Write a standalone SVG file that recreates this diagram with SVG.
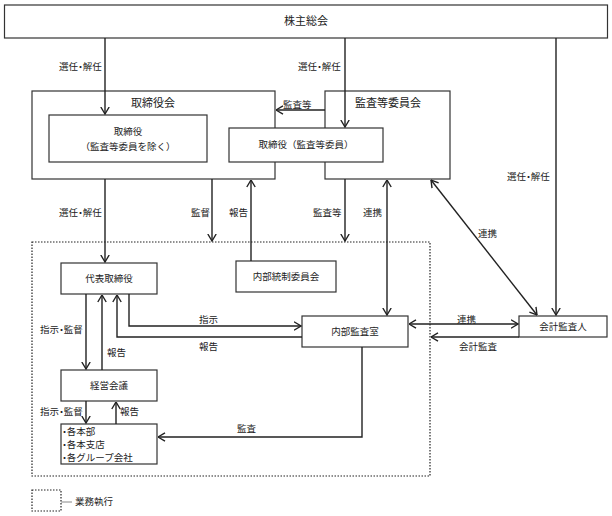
<svg xmlns="http://www.w3.org/2000/svg" width="612" height="516" viewBox="0 0 612 516">
<style>
text{font-family:"Noto Sans CJK JP","Noto Sans CJK SC",sans-serif;fill:#222;}
.n{font-size:9.5px;text-anchor:middle;}
.s{font-size:9.5px;text-anchor:start;font-feature-settings:"halt";}
.t{font-size:11px;text-anchor:middle;}
.l{font-size:9.5px;font-feature-settings:"halt";}
.box{fill:#fff;stroke:#333;stroke-width:1.2;}
.c{fill:none;stroke:#222;stroke-width:1.4;}
</style>
<defs>
<marker id="a" viewBox="0 0 8 10" refX="7.5" refY="5" markerWidth="8" markerHeight="10" markerUnits="userSpaceOnUse" orient="auto-start-reverse">
<path d="M0.5,0.8 L7.5,5 L0.5,9.2" fill="none" stroke="#222" stroke-width="1.4"/>
</marker>
</defs>
<rect width="612" height="516" fill="#fff"/>
<g id="exec-area"><rect x="32" y="242" width="398" height="234" fill="none" stroke="#222" stroke-width="1.2" stroke-dasharray="1.5,1.5"/></g>
<g id="shareholders"><rect class="box" x="4.5" y="5" width="603" height="33"/><text class="t" x="306" y="25">株主総会</text></g>
<g id="board"><rect class="box" x="32" y="91" width="243" height="88"/><text class="t" x="153" y="107">取締役会</text></g>
<g id="directors"><rect class="box" x="49" y="115" width="158" height="47"/><text class="n" x="128" y="135">取締役</text><text class="n" x="128" y="150">（監査等委員を除く）</text></g>
<g id="audit-committee"><rect class="box" x="325" y="91" width="125" height="88"/><text class="t" x="388" y="107">監査等委員会</text></g>
<g id="audit-directors"><rect class="box" x="229" y="128" width="154" height="34"/><text class="n" x="306" y="148">取締役（監査等委員）</text></g>
<g id="ceo"><rect class="box" x="61" y="263" width="96" height="31"/><text class="n" x="109" y="282">代表取締役</text></g>
<g id="internal-control"><rect class="box" x="236" y="261" width="100" height="31"/><text class="n" x="286" y="280">内部統制委員会</text></g>
<g id="internal-audit"><rect class="box" x="302" y="316" width="106" height="31"/><text class="n" x="355" y="335">内部監査室</text></g>
<g id="accounting-auditor"><rect class="box" x="519" y="316" width="88" height="21"/><text class="n" x="563" y="330">会計監査人</text></g>
<g id="management"><rect class="box" x="61" y="370" width="96" height="31"/><text class="n" x="109" y="389">経営会議</text></g>
<g id="divisions"><rect class="box" x="61" y="424" width="96" height="40"/><text class="s" x="62" y="435">・各本部</text><text class="s" x="62" y="448">・各本支店</text><text class="s" x="62" y="461">・各グループ会社</text></g>
<g id="connectors">
<path class="c" d="M105,38 V114" marker-end="url(#a)"/>
<path class="c" d="M345,38 V127" marker-end="url(#a)"/>
<path class="c" d="M556,38 V315" marker-end="url(#a)"/>
<path class="c" d="M325,110 H276" marker-end="url(#a)"/>
<path class="c" d="M105,179 V262" marker-end="url(#a)"/>
<path class="c" d="M212,179 V241" marker-end="url(#a)"/>
<path class="c" d="M251,261 V180" marker-end="url(#a)"/>
<path class="c" d="M345,179 V241" marker-end="url(#a)"/>
<path class="c" d="M387,180 V315" marker-start="url(#a)" marker-end="url(#a)"/>
<path class="c" d="M431,180 L537,315" marker-start="url(#a)" marker-end="url(#a)"/>
<path class="c" d="M409,324 H518" marker-start="url(#a)" marker-end="url(#a)"/>
<path class="c" d="M519,337 H431" marker-end="url(#a)"/>
<path class="c" d="M129,294 V326 H301" marker-end="url(#a)"/>
<path class="c" d="M302,337 H117 V295" marker-end="url(#a)"/>
<path class="c" d="M86,294 V369" marker-end="url(#a)"/>
<path class="c" d="M102,370 V295" marker-end="url(#a)"/>
<path class="c" d="M86,401 V423" marker-end="url(#a)"/>
<path class="c" d="M116,424 V402" marker-end="url(#a)"/>
<path class="c" d="M362,347 V437 H158" marker-end="url(#a)"/>
</g>
<g id="labels">
<text class="l" x="59" y="70">選任・解任</text>
<text class="l" x="298" y="70">選任・解任</text>
<text class="l" x="507" y="180">選任・解任</text>
<text class="l" x="283" y="108">監査等</text>
<text class="l" x="59" y="216">選任・解任</text>
<text class="l" x="191" y="216">監督</text>
<text class="l" x="229" y="216">報告</text>
<text class="l" x="313" y="216">監査等</text>
<text class="l" x="363" y="216">連携</text>
<text class="l" x="478" y="237">連携</text>
<text class="l" x="457" y="323">連携</text>
<text class="l" x="459" y="350">会計監査</text>
<text class="l" x="199" y="323">指示</text>
<text class="l" x="199" y="350">報告</text>
<text class="l" x="40" y="333">指示・監督</text>
<text class="l" x="107" y="356">報告</text>
<text class="l" x="40" y="415">指示・監督</text>
<text class="l" x="120" y="415">報告</text>
<text class="l" x="237" y="432">監査</text>
</g>
<g id="legend">
<rect x="32" y="490" width="29" height="21" fill="none" stroke="#222" stroke-width="1.2" stroke-dasharray="1.5,1.5"/>
<path d="M61,502 H72" stroke="#888" stroke-width="1"/>
<text class="l" x="75" y="505">業務執行</text>
</g>
</svg>
